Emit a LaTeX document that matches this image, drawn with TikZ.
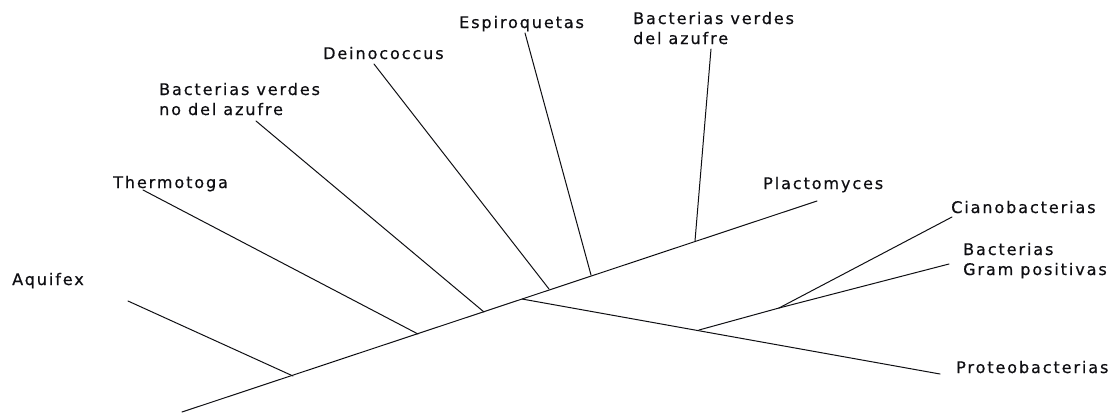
\documentclass[tikz,border=0pt]{standalone}
\usepackage{fontspec}
\setmainfont{DejaVu Sans}[LetterSpace=12,FakeBold=0.6]
\usepackage{xcolor}
\usepackage{tikz}
\definecolor{ink}{HTML}{0E0E12}

\begin{document}
\begin{tikzpicture}[x=1pt,y=-1pt,
  font=\fontsize{16}{20}\selectfont,
  taxon/.style={anchor=base west,inner sep=0pt,align=left,text=ink},
  branch/.style={draw=ink,line width=1pt,line cap=round}]
  \useasboundingbox (0,0) rectangle (1114,413);
  % trunk and its forks
  \coordinate (root) at (182,412);
  \coordinate (naq)  at (293,376);
  \coordinate (nth)  at (418,334);
  \coordinate (nbvn) at (484,312);
  \coordinate (npr)  at (522,299);
  \coordinate (nde)  at (549,289);
  \coordinate (nes)  at (591,275);
  \coordinate (nbvd) at (695,241);
  \coordinate (npos) at (699,330);
  \coordinate (ncg)  at (779,308);
  % branch tips
  \coordinate (taq)  at (128,301);
  \coordinate (tth)  at (143,190);
  \coordinate (tbvn) at (256,121);
  \coordinate (tde)  at (374,64);
  \coordinate (tes)  at (525,33);
  \coordinate (tbvd) at (711,49);
  \coordinate (tpl)  at (817,201);
  \coordinate (tcia) at (952,217);
  \coordinate (tgp)  at (949,264);
  \coordinate (tpr)  at (940,374);
  % taxa (two-line ones sit on their last line)
  \node[taxon] (aq)  at (12,285)  {Aquifex};
  \node[taxon] (th)  at (113,188) {Thermotoga};
  \node[taxon] (bvn) at (159,115) {Bacterias verdes\\no del azufre};
  \node[taxon] (de)  at (323,59)  {Deinococcus};
  \node[taxon] (es)  at (459,28)  {Espiroquetas};
  \node[taxon] (bvd) at (633,44)  {Bacterias verdes\\del azufre};
  \node[taxon] (pl)  at (763,189) {Plactomyces};
  \node[taxon] (cia) at (951,213) {Cianobacterias};
  \node[taxon] (gp)  at (963,275) {Bacterias\\Gram positivas};
  \node[taxon] (pr)  at (956,373) {Proteobacterias};
  % branches
  \draw[branch] (root) -- (tpl);
  \foreach \t/\n in {taq/naq,tth/nth,tbvn/nbvn,tde/nde,tes/nes,tbvd/nbvd}
    \draw[branch] (\t) -- (\n);
  \draw[branch] (npr) -- (tpr);
  \draw[branch] (npos) -- (ncg);
  \draw[branch] (ncg) -- (tcia);
  \draw[branch] (ncg) -- (tgp);
\end{tikzpicture}
\end{document}
